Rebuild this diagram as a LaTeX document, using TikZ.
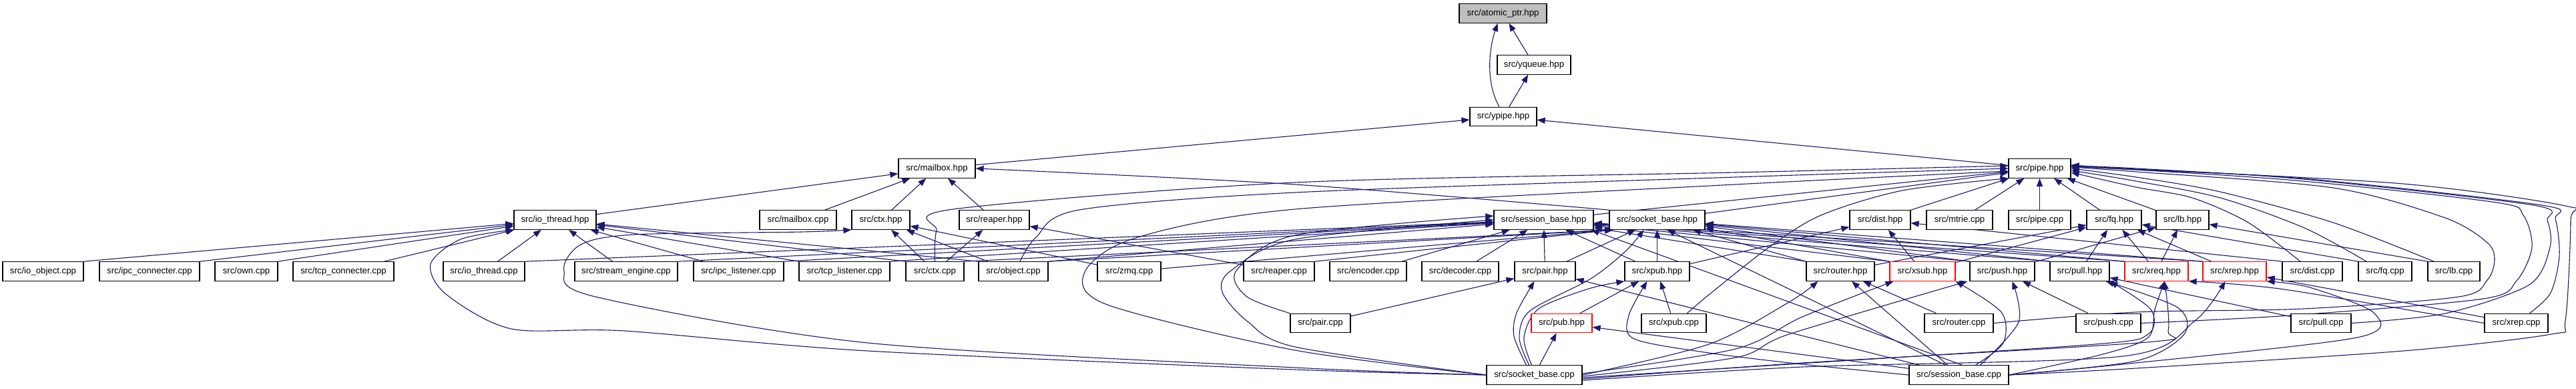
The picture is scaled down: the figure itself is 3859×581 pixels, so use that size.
\documentclass[tikz,border=0pt]{standalone}
\usepackage{fontspec}
\setmainfont{Liberation Sans}
\usetikzlibrary{arrows.meta}
\definecolor{edgec}{HTML}{191970}
\definecolor{greyfill}{HTML}{BFBFBF}
\pgfdeclarelayer{bg}
\pgfsetlayers{bg,main}
\tikzset{
  box/.style={draw=black, line width=1.2pt, fill=white, minimum height=28.5pt, inner sep=0pt, font=\fontsize{13.2}{15}\selectfont},
  redbox/.style={box, draw=red},
  greybox/.style={box, fill=greyfill},
  edg/.style={draw=edgec, line width=1.1pt, -{Triangle[length=12pt,width=9pt]}},
}
\newcommand\mknode[6]{\node[#1, minimum width=#5pt] (#2) at (#3,#4) {#6};}
\begin{document}
\begin{tikzpicture}[x=1pt,y=-1pt]
\useasboundingbox (0,0) rectangle (3859,581);
% ---- nodes ----
\mknode{greybox}{atomic_ptr}{2251.5}{20}{131}{src/atomic\_ptr.hpp}
\mknode{box}{yqueue}{2298}{97}{110}{src/yqueue.hpp}
\mknode{box}{ypipe}{2252}{174.5}{100}{src/ypipe.hpp}
\mknode{box}{mailbox_hpp}{1403.5}{252}{115}{src/mailbox.hpp}
\mknode{box}{pipe_hpp}{3055.5}{252}{93}{src/pipe.hpp}
\mknode{box}{io_thread_hpp}{831.5}{329}{123}{src/io\_thread.hpp}
\mknode{box}{mailbox_cpp}{1195.5}{329}{115}{src/mailbox.cpp}
\mknode{box}{ctx_hpp}{1319.5}{329}{87}{src/ctx.hpp}
\mknode{box}{reaper_hpp}{1489.5}{329}{105}{src/reaper.hpp}
\mknode{box}{session_base_hpp}{2312.5}{329}{149}{src/session\_base.hpp}
\mknode{box}{socket_base_hpp}{2482.5}{329}{143}{src/socket\_base.hpp}
\mknode{box}{dist_hpp}{2816.5}{329}{91}{src/dist.hpp}
\mknode{box}{mtrie_cpp}{2935.5}{329}{99}{src/mtrie.cpp}
\mknode{box}{pipe_cpp}{3055.5}{329}{93}{src/pipe.cpp}
\mknode{box}{fq_hpp}{3167}{329}{82}{src/fq.hpp}
\mknode{box}{lb_hpp}{3269.5}{329}{79}{src/lb.hpp}
\mknode{box}{io_object_cpp}{64.5}{406}{121}{src/io\_object.cpp}
\mknode{box}{ipc_connecter_cpp}{224}{406}{150}{src/ipc\_connecter.cpp}
\mknode{box}{own_cpp}{369}{406}{94}{src/own.cpp}
\mknode{box}{tcp_connecter_cpp}{514.5}{406}{151}{src/tcp\_connecter.cpp}
\mknode{box}{io_thread_cpp}{725}{406}{122}{src/io\_thread.cpp}
\mknode{box}{stream_engine_cpp}{938}{406}{154}{src/stream\_engine.cpp}
\mknode{box}{ipc_listener_cpp}{1106.5}{406}{135}{src/ipc\_listener.cpp}
\mknode{box}{tcp_listener_cpp}{1265}{406}{136}{src/tcp\_listener.cpp}
\mknode{box}{ctx_cpp}{1400.5}{406}{87}{src/ctx.cpp}
\mknode{box}{object_cpp}{1518}{406}{104}{src/object.cpp}
\mknode{box}{zmq_cpp}{1691.5}{406}{95}{src/zmq.cpp}
\mknode{box}{reaper_cpp}{1916}{406}{106}{src/reaper.cpp}
\mknode{box}{encoder_cpp}{2049.5}{406}{115}{src/encoder.cpp}
\mknode{box}{decoder_cpp}{2187.5}{406}{115}{src/decoder.cpp}
\mknode{box}{pair_hpp}{2314.5}{406}{91}{src/pair.hpp}
\mknode{box}{xpub_hpp}{2482.5}{406}{97}{src/xpub.hpp}
\mknode{box}{router_hpp}{2757}{406}{102}{src/router.hpp}
\mknode{redbox}{xsub_hpp}{2880}{406}{98}{src/xsub.hpp}
\mknode{box}{push_hpp}{2999.5}{406}{97}{src/push.hpp}
\mknode{box}{pull_hpp}{3115.5}{406}{89}{src/pull.hpp}
\mknode{redbox}{xreq_hpp}{3230.5}{406}{95}{src/xreq.hpp}
\mknode{redbox}{xrep_hpp}{3347.5}{406}{95}{src/xrep.hpp}
\mknode{box}{dist_cpp}{3464}{406}{90}{src/dist.cpp}
\mknode{box}{fq_cpp}{3573}{406}{80}{src/fq.cpp}
\mknode{box}{lb_cpp}{3676}{406}{78}{src/lb.cpp}
\mknode{box}{pair_cpp}{1978}{483.5}{90}{src/pair.cpp}
\mknode{redbox}{pub_hpp}{2339.5}{483.5}{91}{src/pub.hpp}
\mknode{box}{xpub_cpp}{2507.5}{483.5}{97}{src/xpub.cpp}
\mknode{box}{router_cpp}{2934.5}{483.5}{103}{src/router.cpp}
\mknode{box}{push_cpp}{3158.5}{483.5}{97}{src/push.cpp}
\mknode{box}{pull_cpp}{3477}{483.5}{90}{src/pull.cpp}
\mknode{box}{xrep_cpp}{3769.5}{483.5}{95}{src/xrep.cpp}
\mknode{box}{socket_base_cpp}{2298.5}{561}{143}{src/socket\_base.cpp}
\mknode{box}{session_base_cpp}{2934.5}{561}{149}{src/session\_base.cpp}
% ---- edges ----
\begin{pgfonlayer}{bg}
\fill[white] (0,0) rectangle (3859,581);
% top
\draw[edg] (yqueue) -- (atomic_ptr);
\draw[edg] ([xshift=-6pt]ypipe.north) .. controls (2226,125) and (2230,75) .. ([xshift=-8pt]atomic_ptr.south);
\draw[edg] (ypipe) -- (yqueue);
\draw[edg] (mailbox_hpp) -- (ypipe);
\draw[edg] (pipe_hpp) -- (ypipe);
% mailbox.hpp
\draw[edg] (io_thread_hpp) -- (mailbox_hpp);
\draw[edg] (mailbox_cpp) -- (mailbox_hpp);
\draw[edg] (ctx_hpp) -- (mailbox_hpp);
\draw[edg] (reaper_hpp) -- (mailbox_hpp);
\draw[edg] plot[smooth] coordinates {(socket_base_hpp.north west) (1940,276) (mailbox_hpp.east)};
% io_thread.hpp
\draw[edg] (io_object_cpp.north east) -- (io_thread_hpp);
\draw[edg] (ipc_connecter_cpp.north east) -- (io_thread_hpp);
\draw[edg] (own_cpp.north east) -- (io_thread_hpp);
\draw[edg] (tcp_connecter_cpp) -- (io_thread_hpp);
\draw[edg] (io_thread_cpp) -- (io_thread_hpp);
\draw[edg] (stream_engine_cpp) -- (io_thread_hpp);
\draw[edg] (ipc_listener_cpp) -- (io_thread_hpp);
\draw[edg] (tcp_listener_cpp.north west) -- (io_thread_hpp);
\draw[edg] (ctx_cpp.north west) -- (io_thread_hpp);
\draw[edg] (object_cpp.north west) -- (io_thread_hpp);
\draw[edg] plot[smooth] coordinates {(socket_base_cpp.west) (1940,553) (1300,525) (935,495) (766,492) (668,440) (645,395) (690,358) (io_thread_hpp.south west)};
% ctx.hpp
\draw[edg] (ctx_cpp) -- (ctx_hpp);
\draw[edg] (object_cpp) -- (ctx_hpp);
\draw[edg] (zmq_cpp) -- (ctx_hpp);
\draw[edg] plot[smooth] coordinates {(socket_base_cpp.west) (1940,550) (1300,513) (892,444) (845,405) (870,366) (950,351) (1200,347) (ctx_hpp.south west)};
% reaper.hpp
\draw[edg] (ctx_cpp) -- (reaper_hpp);
\draw[edg] (reaper_cpp) -- (reaper_hpp);
% pipe.hpp, left side
\draw[edg] (socket_base_hpp) -- (pipe_hpp);
\draw[edg] (session_base_hpp) -- (pipe_hpp);
\draw[edg] plot[smooth] coordinates {(ctx_cpp.north) (1403,345) (1428,313) (1940,273) (2600,258) ([yshift=4pt]pipe_hpp.west)};
\draw[edg] plot[smooth] coordinates {([xshift=10pt]object_cpp.north) (1552,355) (1617,314) (1940,288) (2600,265) (pipe_hpp.west)};
\draw[edg] plot[smooth] coordinates {(socket_base_cpp.west) (1940,524) (1659,456) (1625,407) (1701,356) (1940,313) (2580,277) ([yshift=-4pt]pipe_hpp.west)};
\draw[edg] plot[smooth] coordinates {([xshift=20pt]xpub_cpp.north) (2560,441) (2650,370) (2728,322) (2850,285) (pipe_hpp.south west)};
\draw[edg] (dist_hpp) -- (pipe_hpp);
\draw[edg] (mtrie_cpp) -- (pipe_hpp);
\draw[edg] (pipe_cpp) -- (pipe_hpp);
\draw[edg] (fq_hpp) -- (pipe_hpp);
\draw[edg] (lb_hpp) -- (pipe_hpp);
% pipe.hpp, right side
\draw[edg] plot[smooth] coordinates {([xshift=-18pt]dist_cpp.north) (3368,333) (3284,296) (3200,280) ([yshift=-6pt]pipe_hpp.east)};
\draw[edg] plot[smooth] coordinates {([xshift=-28pt]fq_cpp.north) (3452,341) (3326,296) (3200,271) ([yshift=-3pt]pipe_hpp.east)};
\draw[edg] plot[smooth] coordinates {([xshift=-30pt]lb_cpp.north) (3495,333) (3326,287) (3200,265) (pipe_hpp.east)};
\draw[edg] plot[smooth] coordinates {(router_cpp.east) (3200,467) (3450,462) (3684,444) (3726,419) (3737,389) (3726,363) (3663,326) (3495,281) (3200,257) ([yshift=2pt]pipe_hpp.east)};
\draw[edg] plot[smooth] coordinates {(push_cpp.east) (3430,472) (3720,447) (3770,420) (3793,370) (3780,322) (3740,303) (3450,271) (3200,254) ([yshift=3pt]pipe_hpp.east)};
\draw[edg] plot[smooth] coordinates {(pull_cpp.east) (3663,469) (3789,426) (3820,370) (3816,330) (3795,307) (3450,268) (3200,252) ([yshift=4pt]pipe_hpp.east)};
\draw[edg] plot[smooth] coordinates {([xshift=20pt]xrep_cpp.north) (3821,438) (3834,383) (3828,328) (3808,307) (3450,267) (3200,254) ([yshift=3pt]pipe_hpp.east)};
\draw[edg] plot[smooth] coordinates {(session_base_cpp.east) (3200,551) (3600,525) (3822,500) (3843,480) (3851,330) (3843,308) (3600,275) (3200,253) ([yshift=5pt]pipe_hpp.east)};
% session_base.hpp
\draw[edg] (io_thread_cpp.north east) -- (session_base_hpp);
\draw[edg] (stream_engine_cpp.north east) -- (session_base_hpp);
\draw[edg] (ipc_listener_cpp.north east) -- (session_base_hpp);
\draw[edg] (tcp_listener_cpp.north east) -- (session_base_hpp);
\draw[edg] (object_cpp.north east) -- (session_base_hpp);
\draw[edg] (encoder_cpp) -- (session_base_hpp);
\draw[edg] (decoder_cpp) -- (session_base_hpp);
\draw[edg] plot[smooth] coordinates {(socket_base_cpp.west) (1940,519) (1869,481) (1831,437) (1844,405) (1940,358) (session_base_hpp.west)};
\draw[edg] plot[smooth] coordinates {(pair_cpp.north west) (1868,444) (1852,405) (1940,352) ([yshift=6pt]session_base_hpp.west)};
\draw[edg] ([xshift=5pt]session_base_cpp.north) -- ([xshift=-4pt]session_base_hpp.south east);
% socket_base.hpp
\draw[edg] (ctx_cpp.north east) -- ([xshift=6pt]socket_base_hpp.south west);
\draw[edg] (object_cpp.north east) -- ([xshift=6pt]socket_base_hpp.south west);
\draw[edg] ([yshift=4pt]zmq_cpp.east) -- ([xshift=6pt]socket_base_hpp.south west);
\draw[edg] (reaper_cpp.north east) -- ([xshift=6pt]socket_base_hpp.south west);
\draw[edg] ([xshift=-20pt]session_base_cpp.north) -- ([xshift=15pt]socket_base_hpp.south);
\draw[edg] plot[smooth] coordinates {([xshift=-8pt]socket_base_cpp.north) (2276,505) (2292,465) (2383,417) (2435,376) ([xshift=-20pt]socket_base_hpp.south)};
\draw[edg] (pair_hpp) -- (session_base_hpp);
\draw[edg] (pair_hpp) -- (socket_base_hpp);
\draw[edg] (xpub_hpp) -- (session_base_hpp);
\draw[edg] (xpub_hpp) -- (socket_base_hpp);
\foreach \s in {router_hpp,xsub_hpp,push_hpp,pull_hpp,xreq_hpp,xrep_hpp}{
  \draw[edg] (\s.north west) -- (session_base_hpp);
  \draw[edg] (\s.north west) -- (socket_base_hpp);
}
% dist / fq / lb
\draw[edg] (xpub_hpp) -- (dist_hpp);
\draw[edg] (xsub_hpp) -- (dist_hpp);
\draw[edg] (dist_cpp.north west) -- (dist_hpp);
\draw[edg] (router_hpp) -- (fq_hpp);
\draw[edg] (xsub_hpp) -- (fq_hpp);
\draw[edg] (pull_hpp) -- (fq_hpp);
\draw[edg] (xreq_hpp) -- (fq_hpp);
\draw[edg] (xrep_hpp) -- (fq_hpp);
\draw[edg] (fq_cpp.north west) -- (fq_hpp);
\draw[edg] (push_hpp) -- (lb_hpp);
\draw[edg] (xreq_hpp) -- (lb_hpp);
\draw[edg] (lb_cpp.north west) -- (lb_hpp);
% pair.hpp
\draw[edg] (pair_cpp) -- (pair_hpp);
\draw[edg] plot[smooth] coordinates {([xshift=-12pt]socket_base_cpp.north) (2268,503) (2272,468) ([xshift=-16pt]pair_hpp.south)};
\draw[edg] (session_base_cpp) -- (pair_hpp);
% xpub.hpp / pub.hpp
\draw[edg] (pub_hpp) -- (xpub_hpp);
\draw[edg] (xpub_cpp) -- (xpub_hpp);
\draw[edg] plot[smooth] coordinates {([xshift=-4pt]socket_base_cpp.north) (2283,505) (2305,462) (2380,432) (xpub_hpp.south west)};
\draw[edg] plot[smooth] coordinates {(session_base_cpp.west) (2700,545) (2560,528) (2448,507) (2440,472) ([xshift=-15pt]xpub_hpp.south)};
\draw[edg] (socket_base_cpp) -- (pub_hpp);
\draw[edg] (session_base_cpp) -- (pub_hpp);
% router.hpp
\draw[edg] (router_cpp) -- (router_hpp);
\draw[edg] plot[smooth] coordinates {(socket_base_cpp.east) (2560,515) (2680,452) ([xshift=18pt]router_hpp.south west)};
\draw[edg] (session_base_cpp) -- (router_hpp);
% xsub.hpp
\draw[edg] plot[smooth] coordinates {([yshift=2pt]socket_base_cpp.east) (2600,522) (2700,474) ([xshift=6pt]xsub_hpp.south west)};
\draw[edg] plot[smooth] coordinates {([xshift=25pt]session_base_cpp.north) (3001,513) (2998,467) (xsub_hpp.south east)};
% push.hpp
\draw[edg] plot[smooth] coordinates {([yshift=-2pt]socket_base_cpp.east) (2600,535) (2680,500) ([xshift=-3pt]push_hpp.south west)};
\draw[edg] plot[smooth] coordinates {([xshift=32pt]session_base_cpp.north) (3024,482) ([xshift=15pt]push_hpp.south)};
\draw[edg] (push_cpp) -- (push_hpp);
% pull.hpp
\draw[edg] (pull_cpp) -- (pull_hpp);
\draw[edg] plot[smooth] coordinates {([yshift=-4pt]socket_base_cpp.east) (2680,545) (3139,515) (3218,500) (3222,463) (pull_hpp.south east)};
\draw[edg] plot[smooth] coordinates {(session_base_cpp.east) (3200,540) (3272,500) (3262,460) ([xshift=-6pt]pull_hpp.south east)};
% xreq.hpp
\draw[edg] plot[smooth] coordinates {([yshift=-6pt]socket_base_cpp.east) (2700,543) (3216,512) (3248,495) ([xshift=12pt]xreq_hpp.south)};
\draw[edg] plot[smooth] coordinates {(session_base_cpp.east) (3150,530) (3218,505) (3228,463) ([xshift=12pt]xreq_hpp.south)};
\draw[edg] plot[smooth] coordinates {(xrep_cpp.west) (3422,433) (xreq_hpp.south east)};
% xrep.hpp
\draw[edg] (xrep_cpp) -- (xrep_hpp);
\draw[edg] plot[smooth] coordinates {([yshift=-8pt]socket_base_cpp.east) (2700,549) (3180,533) (3288,480) ([xshift=-14pt]xrep_hpp.south)};
\draw[edg] plot[smooth] coordinates {(session_base_cpp.east) (3180,545) (3531,505) (3556,468) (3460,430) (xrep_hpp.south east)};
\end{pgfonlayer}
\end{tikzpicture}
\end{document}
